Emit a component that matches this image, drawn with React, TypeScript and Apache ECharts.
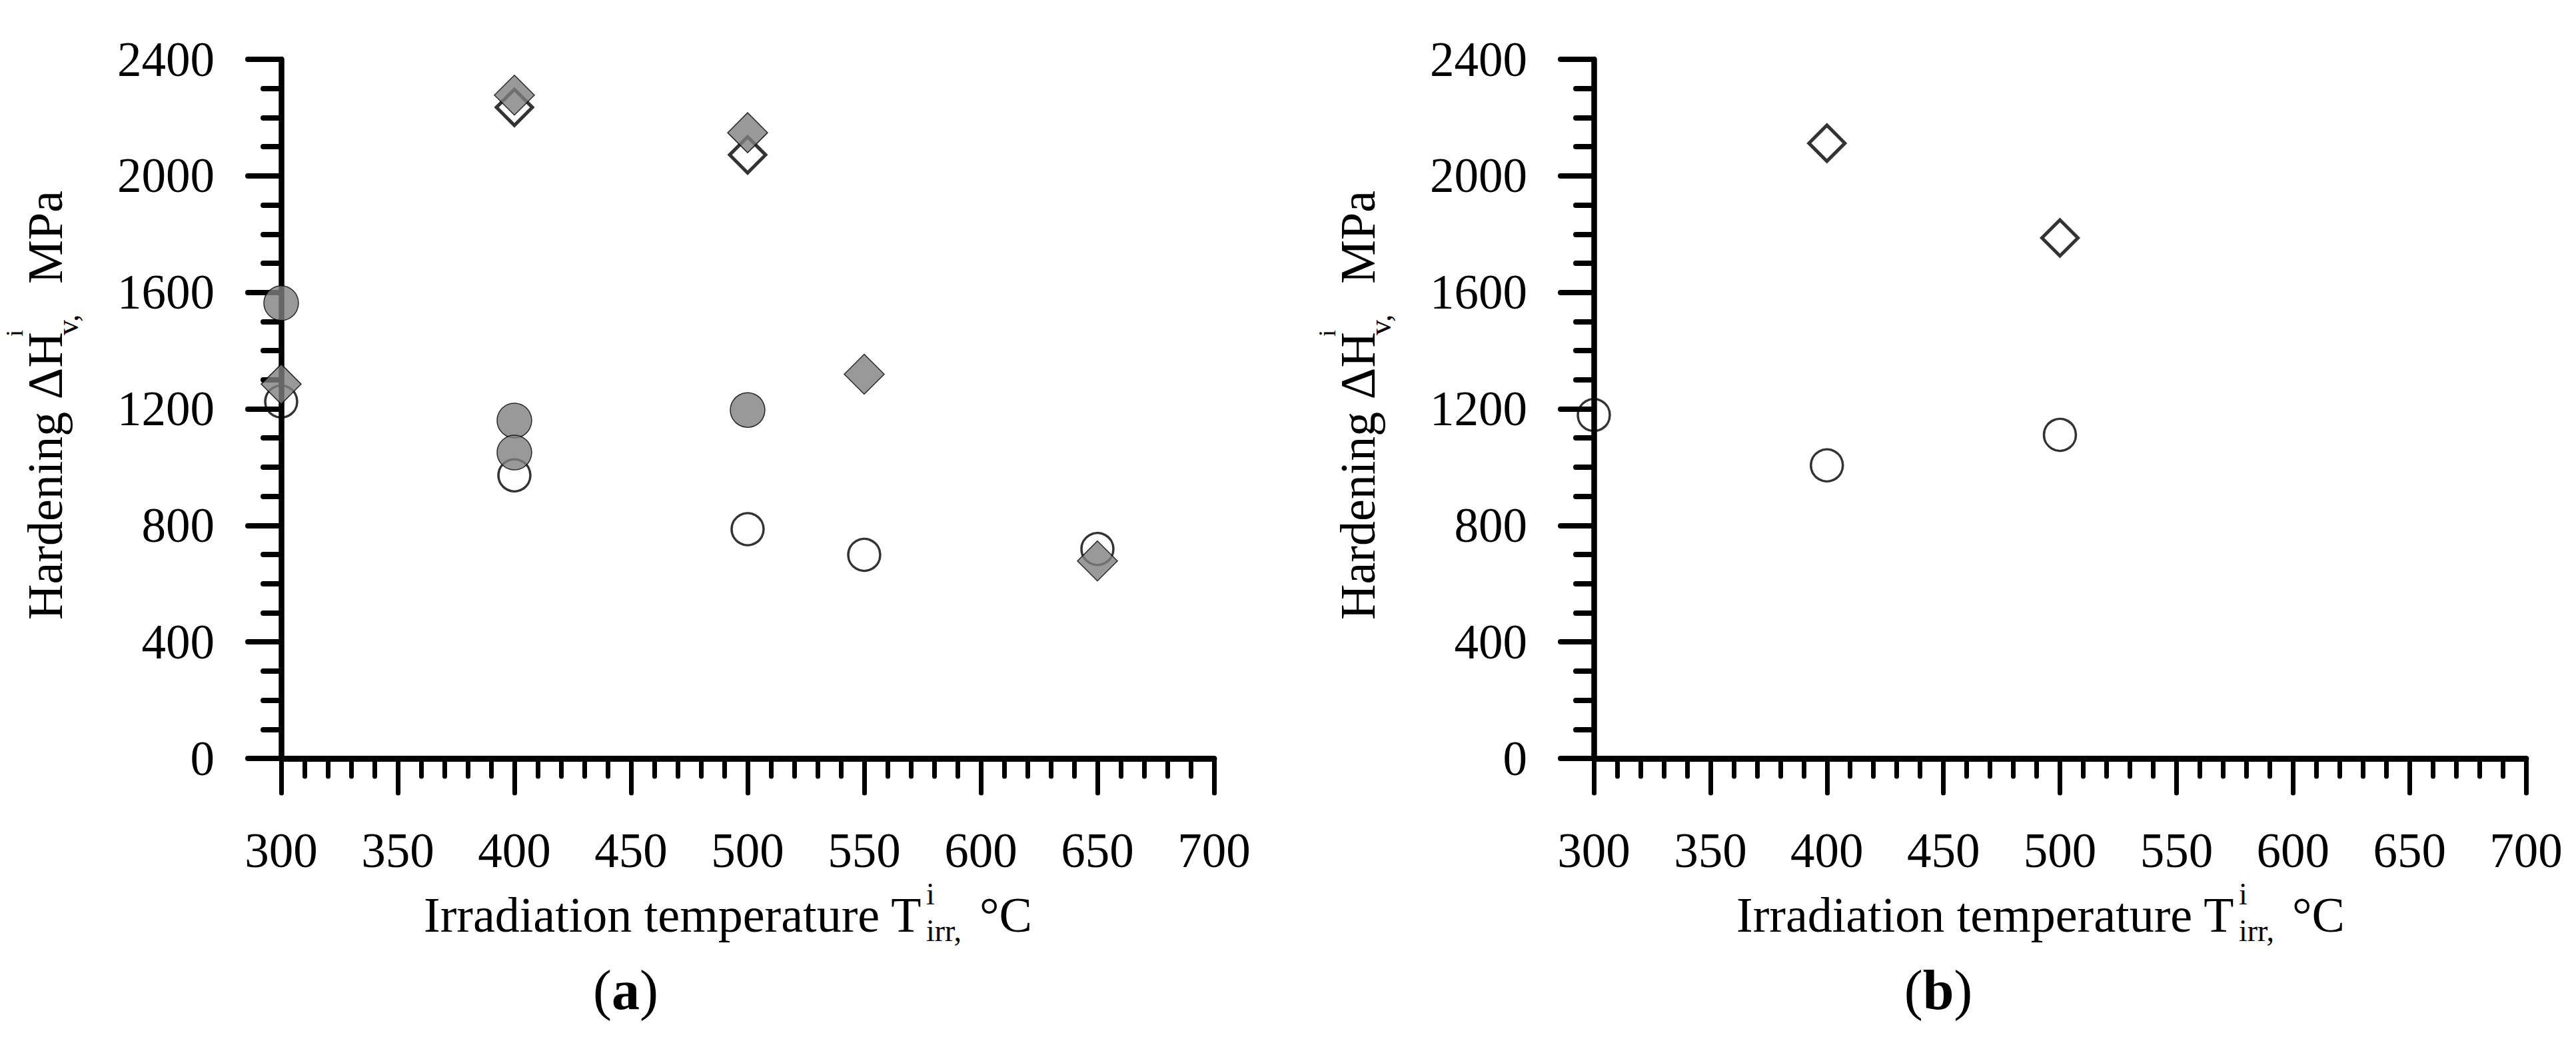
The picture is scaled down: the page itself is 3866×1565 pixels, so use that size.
import React, { useEffect, useRef } from "react";
import * as echarts from "echarts";

// ---------- data ----------
// Panel (a)
const openCirclesA: number[][] = [[300, 1225], [400, 972], [500, 787], [550, 699], [650, 719]];
const filledCirclesA: number[][] = [[300, 1563], [400, 1160], [400, 1050], [500, 1196]];
const openDiamondsA: number[][] = [[400, 2235], [500, 2072]];
const filledDiamondsA: number[][] = [[300, 1285], [400, 2277], [500, 2148], [550, 1319], [650, 678]];
// Panel (b)
const openCirclesB: number[][] = [[300, 1179], [400, 1006], [500, 1111]];
const openDiamondsB: number[][] = [[400, 2112], [500, 1787]];

// axes
const xMin = 300;
const xMax = 700;
const xStep = 50;
const yMin = 0;
const yMax = 2400;
const yStep = 400;

const panelLabels = ["a", "b"];

const FONT = '"Liberation Serif", "Times New Roman", Times, serif';

function makeXAxis(gridIndex: number) {
  return {
    type: "value",
    gridIndex,
    min: xMin,
    max: xMax,
    interval: xStep,
    axisLine: { show: true, onZero: false, lineStyle: { color: "#000", width: 9, cap: "round" } },
    axisTick: { show: true, inside: false, length: 52, lineStyle: { color: "#000", width: 7, cap: "round" } },
    minorTick: { show: true, splitNumber: 5, length: 27, lineStyle: { color: "#000", width: 7, cap: "round" } },
    axisLabel: {
      show: true,
      margin: 102,
      color: "#000",
      fontSize: 73,
      fontFamily: FONT,
      formatter: (v: number) => String(v),
    },
    splitLine: { show: false },
    minorSplitLine: { show: false },
  };
}

function makeYAxis(gridIndex: number) {
  return {
    type: "value",
    gridIndex,
    min: yMin,
    max: yMax,
    interval: yStep,
    axisLine: { show: true, onZero: false, lineStyle: { color: "#000", width: 8.5, cap: "round" } },
    axisTick: { show: true, inside: false, length: 50, lineStyle: { color: "#000", width: 8, cap: "round" } },
    minorTick: { show: true, splitNumber: 4, length: 27, lineStyle: { color: "#000", width: 8, cap: "round" } },
    axisLabel: {
      show: true,
      margin: 100,
      color: "#000",
      fontSize: 73,
      fontFamily: FONT,
      formatter: (v: number) => String(v),
    },
    splitLine: { show: false },
    minorSplitLine: { show: false },
  };
}

function scatter(data: number[][], idx: number, kind: "openCircle" | "filledCircle" | "openDiamond" | "filledDiamond", z: number) {
  const base: any = {
    type: "scatter",
    xAxisIndex: idx,
    yAxisIndex: idx,
    data,
    silent: true,
    z,
    emphasis: { disabled: true },
  };
  if (kind === "openCircle") {
    base.symbol = "circle";
    base.symbolSize = 48;
    base.itemStyle = { color: "transparent", borderColor: "#000", borderWidth: 3.5 };
  } else if (kind === "filledCircle") {
    base.symbol = "circle";
    base.symbolSize = 52;
    base.itemStyle = { color: "#808080", borderColor: "#000", borderWidth: 1.5 };
  } else if (kind === "openDiamond") {
    base.symbol = "diamond";
    base.symbolSize = 54;
    base.itemStyle = { color: "transparent", borderColor: "#000", borderWidth: 5, borderJoin: "miter" };
  } else {
    base.symbol = "diamond";
    base.symbolSize = 60;
    base.itemStyle = { color: "#808080", borderColor: "#000", borderWidth: 1.5, borderJoin: "miter" };
  }
  return base;
}

function txt(x: number, y: number, text: string, size: number, opts: any = {}) {
  const align = opts.align || "left";
  return {
    type: "text",
    x,
    y,
    rotation: opts.rot || 0,
    silent: true,
    z: 100,
    style: {
      text,
      fill: "#000",
      fontFamily: FONT,
      fontSize: size,
      fontWeight: opts.weight || "normal",
      align,
      verticalAlign: "middle",
      textAlign: align,
      textVerticalAlign: "middle",
      rich: opts.rich,
    },
  };
}

function panelTitles(dx: number, label: string) {
  const rot = Math.PI / 2;
  return [
    // x-axis title: Irradiation temperature T^i_irr, °C
    txt(636 + dx, 1373, "Irradiation temperature T", 74),
    txt(1390 + dx, 1341, "i", 46),
    txt(1390 + dx, 1396, "irr,", 46),
    txt(1470 + dx, 1373, "°C", 74),
    // y-axis title: Hardening ΔH^i_v, MPa (rotated)
    txt(68 + dx, 930, "Hardening ΔH", 74, { rot }),
    txt(22 + dx, 505, "i", 36, { rot }),
    txt(101 + dx, 503, "v,", 46, { rot }),
    txt(68 + dx, 286, "MPa", 74, { rot, align: "right" }),
    // panel label
    txt(939 + dx, 1485, "({b|" + label + "})", 84, {
      align: "center",
      rich: { b: { fontWeight: "bold", fontSize: 84, fontFamily: FONT, fill: "#000" } },
    }),
  ];
}

export default function App() {
  const ref = useRef<HTMLDivElement>(null);

  useEffect(() => {
    if (!ref.current) return;
    const chart = echarts.init(ref.current, null, { renderer: "svg" });
    const option: any = {
      animation: false,
      backgroundColor: "#ffffff",
      grid: [
        { left: 422, top: 89, width: 1400, height: 1049, containLabel: false },
        { left: 2392, top: 89, width: 1399, height: 1049, containLabel: false },
      ],
      xAxis: [makeXAxis(0), makeXAxis(1)],
      yAxis: [makeYAxis(0), makeYAxis(1)],
      series: [
        scatter(openCirclesA, 0, "openCircle", 3),
        scatter(openDiamondsA, 0, "openDiamond", 3),
        scatter(filledCirclesA, 0, "filledCircle", 4),
        scatter(filledDiamondsA, 0, "filledDiamond", 5),
        scatter(openCirclesB, 1, "openCircle", 3),
        scatter(openDiamondsB, 1, "openDiamond", 3),
      ],
      graphic: [...panelTitles(0, panelLabels[0]), ...panelTitles(1970, panelLabels[1])],
    };
    chart.setOption(option);
    return () => {
      chart.dispose();
    };
  }, []);

  return (
    <div
      ref={ref}
      style={{ position: "absolute", left: 0, top: 0, width: 3866, height: 1565, background: "#fff" }}
    />
  );
}
